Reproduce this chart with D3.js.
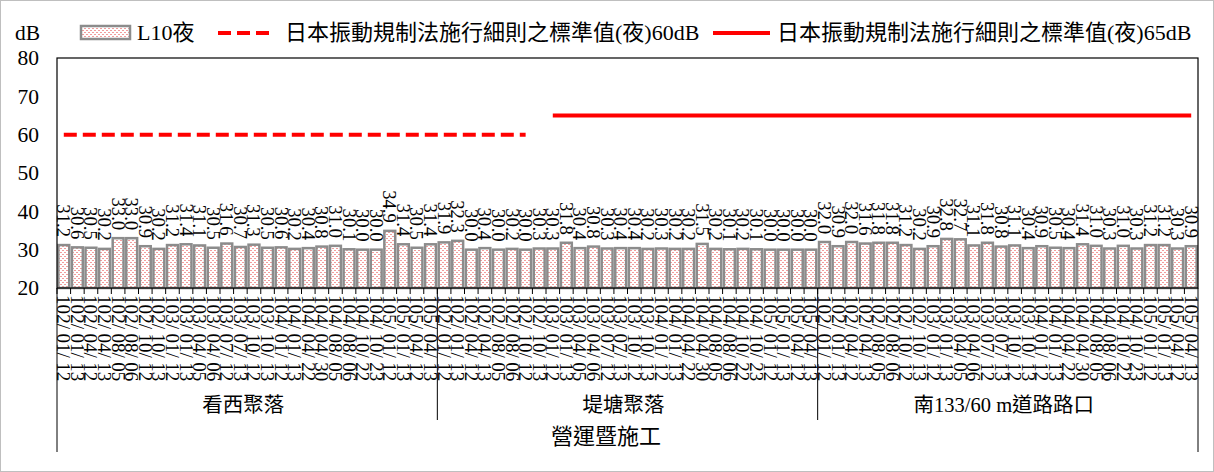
<!DOCTYPE html>
<html>
<head>
<meta charset="utf-8">
<style>
  body { margin: 0; background: #fff; }
  svg text { font-family: "Liberation Serif", "Noto Sans CJK TC", serif; fill: #000; }
</style>
</head>
<body>
<svg width="1214" height="472"></svg>
<script src="https://cdn.jsdelivr.net/npm/d3@7/dist/d3.min.js"></script>
<script>
// ---- data ----
var groups = ["看西聚落", "堤塘聚落", "南133/60 m道路路口"];
var phase = "營運暨施工";
var dates = [
  "102/01/12", "102/01/13", "102/04/12", "102/04/13", "102/08/05", "102/08/06", "102/10/12", "102/10/13",
  "103/01/12", "103/01/13", "103/04/05", "103/04/06", "103/07/12", "103/07/13", "103/10/12", "103/10/13",
  "104/01/12", "104/01/13", "104/04/22", "104/04/30", "104/08/05", "104/08/06", "104/10/22", "104/10/23",
  "105/01/12", "105/01/13", "105/04/12", "105/04/13"
];
var l10Kanxi = [31.2, 30.6, 30.5, 30.2, 33.0, 33.0, 30.9, 30.2, 31.2, 31.4, 31.1, 30.5, 31.6, 30.7,
  31.3, 30.5, 30.6, 30.2, 30.4, 30.8, 31.0, 30.1, 30.0, 30.0, 34.9, 31.4, 30.5, 31.4];
var l10Ditang = [31.9, 32.3, 30.0, 30.4, 30.0, 30.2, 30.0, 30.3, 30.3, 31.8, 30.4, 30.8, 30.3, 30.4,
  30.4, 30.2, 30.3, 30.2, 30.2, 31.5, 30.2, 30.1, 30.2, 30.1, 30.0, 30.0, 30.0, 30.0];
var l10Road = [32.0, 30.9, 32.0, 31.6, 31.8, 31.8, 31.2, 30.2, 30.9, 32.8, 32.7, 31.1, 31.8, 30.8,
  31.1, 30.4, 30.9, 30.5, 30.4, 31.4, 31.0, 30.3, 31.0, 30.3, 31.2, 31.2, 30.3, 30.9];
// limit lines: [first group, first date index, last group, last date index, value]
var limit60 = [0, 0, 1, 6, 60];
var limit65 = [1, 8, 2, 27, 65];
var yTicks = [20, 30, 40, 50, 60, 70, 80];
var legendLabels = ["L10夜", "日本振動規制法施行細則之標準值(夜)60dB", "日本振動規制法施行細則之標準值(夜)65dB"];

// ---- build rows ----
var series = [l10Kanxi, l10Ditang, l10Road];
var rows = [];
groups.forEach(function(g, gi) {
  dates.forEach(function(d, di) {
    rows.push({ key: gi + "|" + di, group: g, gi: gi, date: d, value: series[gi][di] });
  });
});
function keyOf(gi, di) { return gi + "|" + di; }

var svg = d3.select("svg");
var plotL = 57, plotR = 1198, plotT = 58, plotB = 288;

var x = d3.scaleBand().domain(rows.map(function(d) { return d.key; }))
  .range([plotL, plotR]).paddingInner(0.2).paddingOuter(0.1);
var y = d3.scaleLinear().domain([20, 80]).range([plotB, plotT]);

// pattern fill
var defs = svg.append("defs");
var pat = defs.append("pattern").attr("id", "dots").attr("patternUnits", "userSpaceOnUse")
  .attr("width", 4).attr("height", 4);
pat.append("rect").attr("width", 4).attr("height", 4).attr("fill", "#fff");
pat.append("rect").attr("x", 0).attr("y", 0).attr("width", 2).attr("height", 1).attr("fill", "#f19c9c");
pat.append("rect").attr("x", 2).attr("y", 2).attr("width", 2).attr("height", 1).attr("fill", "#f19c9c");

// outer border
svg.append("rect").attr("x", 0.5).attr("y", 0.5).attr("width", 1213).attr("height", 471)
  .attr("fill", "none").attr("stroke", "#bfbfbf");

// bars
svg.append("g").selectAll("rect").data(rows).enter().append("rect")
  .attr("x", function(d) { return x(d.key); })
  .attr("width", x.bandwidth())
  .attr("y", function(d) { return y(d.value); })
  .attr("height", function(d) { return y(20) - y(d.value); })
  .attr("fill", "url(#dots)")
  .attr("stroke", "#8c8c8c").attr("stroke-width", 2.5);

// value labels
svg.append("g").selectAll("text").data(rows).enter().append("text")
  .attr("transform", function(d) {
    return "translate(" + (x(d.key) + x.bandwidth() / 2) + "," + (y(d.value) - 8) + ") rotate(90)";
  })
  .attr("text-anchor", "end").attr("dominant-baseline", "central")
  .style("font-size", "18.7px")
  .text(function(d) { return d.value.toFixed(1); });

// limit lines
var cx = function(gi, di) { return x(keyOf(gi, di)) + x.bandwidth() / 2; };
svg.append("line")
  .attr("x1", cx(limit60[0], limit60[1])).attr("x2", cx(limit60[2], limit60[3]))
  .attr("y1", y(limit60[4])).attr("y2", y(limit60[4]))
  .attr("stroke", "#ff0000").attr("stroke-width", 4).attr("stroke-dasharray", "13,6");
svg.append("line")
  .attr("x1", cx(limit65[0], limit65[1])).attr("x2", cx(limit65[2], limit65[3]))
  .attr("y1", y(limit65[4])).attr("y2", y(limit65[4]))
  .attr("stroke", "#ff0000").attr("stroke-width", 4);

// y axis
var yAxis = svg.append("g").attr("transform", "translate(" + plotL + ",0)")
  .call(d3.axisLeft(y).tickValues(yTicks).tickSize(0).tickPadding(18));
yAxis.select(".domain").remove();
yAxis.selectAll("text").style("font-size", "21.5px").attr("font-family", null);

svg.append("text").attr("x", 15).attr("y", 40).style("font-size", "21.5px").text("dB");

// plot frame
var axisBottom = 452, groupLine = 420;
svg.append("rect").attr("x", plotL).attr("y", plotT).attr("width", plotR - plotL).attr("height", plotB - plotT)
  .attr("fill", "none").attr("stroke", "#000").attr("stroke-width", 1.2);
svg.append("line").attr("x1", plotL).attr("x2", plotL).attr("y1", plotB).attr("y2", axisBottom)
  .attr("stroke", "#000");
svg.append("line").attr("x1", plotR).attr("x2", plotR).attr("y1", plotB).attr("y2", axisBottom)
  .attr("stroke", "#000");

// category ticks
svg.append("g").selectAll("line").data(rows).enter().append("line")
  .attr("x1", function(d) { return x(d.key) - x.step() * 0.1; })
  .attr("x2", function(d) { return x(d.key) - x.step() * 0.1; })
  .attr("y1", plotB).attr("y2", plotB + 6).attr("stroke", "#000");

// date labels (fixed advance per character)
var charStep = 9.6;
svg.append("g").selectAll("text").data(rows).enter().append("text")
  .attr("transform", function(d) {
    return "translate(" + (x(d.key) + x.bandwidth() / 2) + "," + (plotB + 7) + ") rotate(90)";
  })
  .attr("x", function(d) { return d.date.split("").map(function(c, i) { return i * charStep; }).join(" "); })
  .attr("dominant-baseline", "central")
  .style("font-size", "19px")
  .text(function(d) { return d.date; });

// group separators and labels
groups.forEach(function(g, gi) {
  var x0 = x(keyOf(gi, 0)) - x.step() * 0.1;
  var x1 = x(keyOf(gi, dates.length - 1)) + x.bandwidth() + x.step() * 0.1;
  if (gi > 0) {
    svg.append("line").attr("x1", x0).attr("x2", x0).attr("y1", plotB).attr("y2", groupLine)
      .attr("stroke", "#000");
  }
  svg.append("text").attr("x", (x0 + x1) / 2 - 4).attr("y", 412).attr("text-anchor", "middle")
    .style("font-size", "20.5px").text(g);
});
svg.append("text").attr("x", 606).attr("y", 444).attr("text-anchor", "middle")
  .style("font-size", "22px").text(phase);

// legend
var lg = svg.append("g");
lg.append("rect").attr("x", 81).attr("y", 26).attr("width", 49).attr("height", 13)
  .attr("fill", "url(#dots)").attr("stroke", "#8c8c8c").attr("stroke-width", 2.5);
lg.append("text").attr("x", 137).attr("y", 40).style("font-size", "22px").text(legendLabels[0]);
lg.append("line").attr("x1", 218).attr("x2", 270).attr("y1", 33).attr("y2", 33)
  .attr("stroke", "#ff0000").attr("stroke-width", 4).attr("stroke-dasharray", "13,6");
lg.append("text").attr("x", 285).attr("y", 40).style("font-size", "22px").text(legendLabels[1]);
lg.append("line").attr("x1", 713).attr("x2", 770).attr("y1", 33).attr("y2", 33)
  .attr("stroke", "#ff0000").attr("stroke-width", 4);
lg.append("text").attr("x", 777).attr("y", 40).style("font-size", "22px").text(legendLabels[2]);
</script>
</body>
</html>
